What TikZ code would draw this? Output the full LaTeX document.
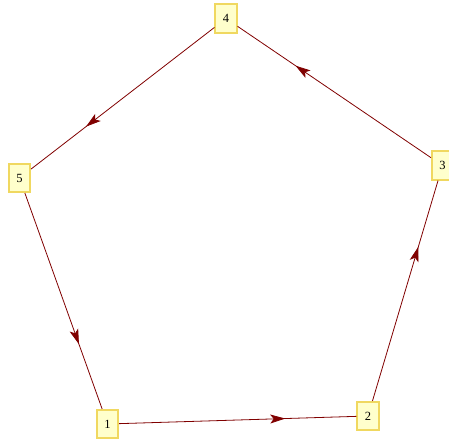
\documentclass[tikz,border=0pt]{standalone}
\usepackage{fontspec}
\setmainfont{Liberation Serif}
\usetikzlibrary{arrows.meta,decorations.markings}
\definecolor{edgecol}{HTML}{800000}
\definecolor{boxfill}{HTML}{FFFFCC}
\definecolor{boxdraw}{HTML}{F0D860}
\tikzset{
  vbox/.style={draw=boxdraw, fill=boxfill, line width=1.6pt, minimum width=21.5pt, minimum height=28.5pt, inner sep=0pt, font=\fontsize{12.5}{14}\selectfont},
  dedge/.style={draw=edgecol, line width=0.8pt, postaction={decorate},
    decoration={markings, mark=at position 0.7 with {\arrow{Stealth[length=15pt,width=9pt,inset=3.5pt]}}}}
}
\begin{document}
\begin{tikzpicture}[x=1pt,y=-1pt]
\useasboundingbox (0,0) rectangle (449,443);
\node[vbox] (n1) at (107.5,424) {1};
\node[vbox] (n2) at (368,416) {2};
\node[vbox] (n3) at (442.5,165.5) {3};
\node[vbox] (n4) at (226,18.5) {4};
\node[vbox] (n5) at (19.5,178) {5};
\draw[dedge] (n1) -- (n2);
\draw[dedge] (n2) -- (n3);
\draw[dedge] (n3) -- (n4);
\draw[dedge] (n4) -- (n5);
\draw[dedge] (n5) -- (n1);
\end{tikzpicture}
\end{document}
